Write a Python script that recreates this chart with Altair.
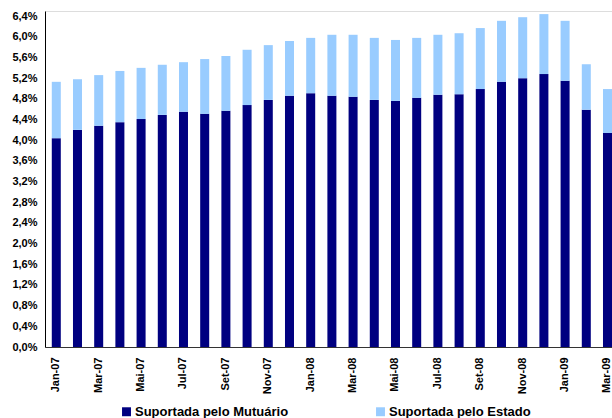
import altair as alt
import pandas as pd

months = ["Jan-07", "Fev-07", "Mar-07", "Abr-07", "Mai-07", "Jun-07", "Jul-07", "Ago-07", "Set-07",
          "Out-07", "Nov-07", "Dez-07", "Jan-08", "Fev-08", "Mar-08", "Abr-08", "Mai-08", "Jun-08",
          "Jul-08", "Ago-08", "Set-08", "Out-08", "Nov-08", "Dez-08", "Jan-09", "Fev-09", "Mar-09"]

mutuario = [4.04, 4.20, 4.28, 4.35, 4.41, 4.49, 4.55, 4.51, 4.57, 4.68, 4.78, 4.86, 4.91,
            4.86, 4.84, 4.78, 4.76, 4.82, 4.88, 4.89, 4.99, 5.13, 5.20, 5.28, 5.15, 4.59, 4.14]

estado = [1.09, 0.98, 0.98, 0.99, 0.99, 0.97, 0.96, 1.06, 1.06, 1.07, 1.06, 1.06, 1.07,
          1.18, 1.20, 1.20, 1.18, 1.16, 1.16, 1.18, 1.18, 1.18, 1.18, 1.16, 1.16, 0.88, 0.85]

series = ["Suportada pelo Mutuário", "Suportada pelo Estado"]
colors = ["#000080", "#99CCFF"]

label_months = months[::2]
y_ticks = [0.0, 0.4, 0.8, 1.2, 1.6, 2.0, 2.4, 2.8, 3.2, 3.6, 4.0, 4.4, 4.8, 5.2, 5.6, 6.0, 6.4]

rows = []
for i, m in enumerate(months):
    rows.append({"mes": m, "serie": series[0], "valor": mutuario[i], "ordem": 0})
    rows.append({"mes": m, "serie": series[1], "valor": estado[i], "ordem": 1})
df = pd.DataFrame(rows)

FONT = "Liberation Sans"

chart = alt.Chart(df).mark_bar().encode(
    x=alt.X("mes:N", sort=months,
            scale=alt.Scale(paddingInner=0.575, paddingOuter=0.16, align=1),
            axis=alt.Axis(title=None, values=label_months, labelAngle=270, labelAlign="right",
                          labelBaseline="middle", ticks=False, labelPadding=10,
                          labelFont=FONT, labelFontWeight="bold", labelFontSize=11,
                          labelColor="black", domainColor="#333333", labelOverlap=False)),
    y=alt.Y("valor:Q", stack="zero",
            scale=alt.Scale(domain=[0, 6.5], nice=False, zero=True),
            axis=alt.Axis(title=None, values=y_ticks, grid=False, ticks=False, labelPadding=8,
                          labelExpr="replace(format(datum.value, '.1f'), '.', ',') + '%'",
                          labelFont=FONT, labelFontWeight="bold", labelFontSize=11,
                          labelColor="black", domainColor="black")),
    color=alt.Color("serie:N", scale=alt.Scale(domain=series, range=colors),
                    legend=alt.Legend(title=None, orient="none", legendX=75, legendY=394,
                                      direction="horizontal", symbolType="square", symbolSize=80,
                                      symbolStrokeWidth=0, labelFont=FONT, labelFontWeight="bold",
                                      labelFontSize=13, labelColor="black", labelOffset=2,
                                      columnPadding=85, padding=0, labelLimit=300)),
    order=alt.Order("ordem:Q", sort="ascending"),
).properties(
    width=567,
    height=336,
    autosize=alt.AutoSizeParams(type="none"),
    padding={"left": 45, "top": 11, "right": 0, "bottom": 71},
).configure_view(
    stroke="#333333", strokeWidth=1
).configure(background="white")

chart.save("out.html", embed_options={"renderer": "svg", "actions": False})
